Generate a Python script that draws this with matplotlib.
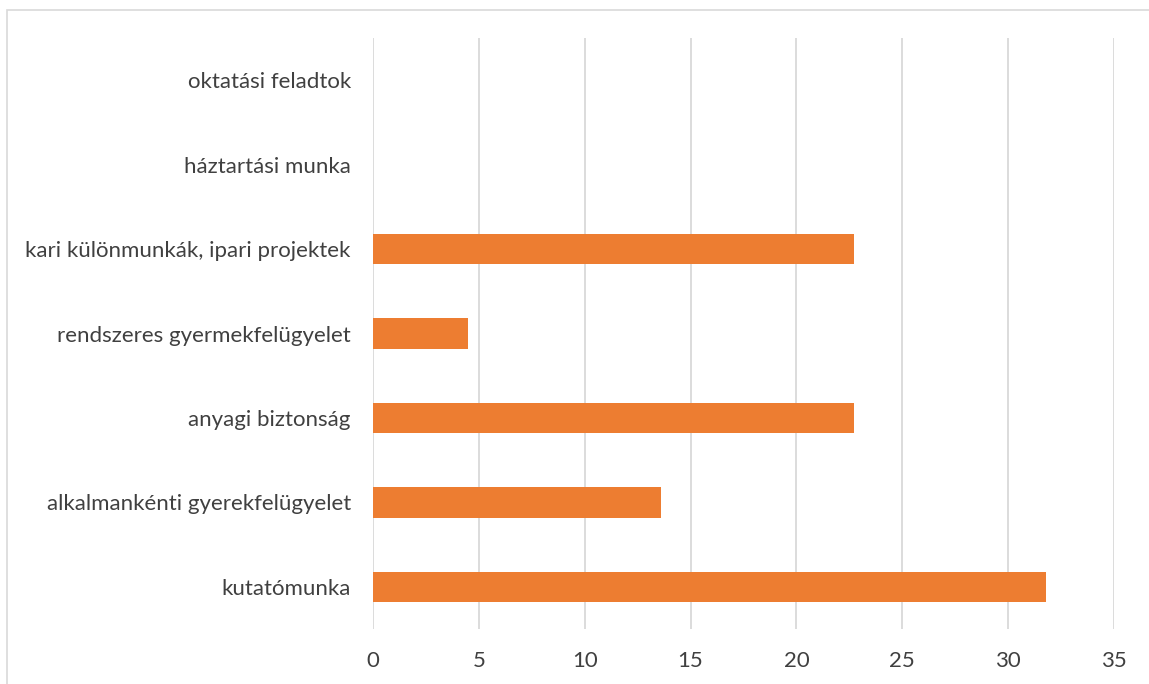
import matplotlib
matplotlib.use("Agg")
import matplotlib.pyplot as plt
from matplotlib.patches import Rectangle

categories = [
    "kutatómunka",
    "alkalmankénti gyerekfelügyelet",
    "anyagi biztonság",
    "rendszeres gyermekfelügyelet",
    "kari különmunkák, ipari projektek",
    "háztartási munka",
    "oktatási feladtok",
]
values = [31.8, 13.6, 22.7, 4.5, 22.7, 0, 0]
xticks = [0, 5, 10, 15, 20, 25, 30, 35]

W, H = 1149, 684
fig = plt.figure(figsize=(W / 100, H / 100), dpi=100)
plt.rcParams["font.family"] = ["Lato", "DejaVu Sans"]

# outer chart frame (right and bottom edges run off the canvas)
fig.patches.append(Rectangle((7 / W, -0.05), 1.2, 1 - 10 / H + 0.05,
                             transform=fig.transFigure, fill=False,
                             edgecolor="#d9d9d9", linewidth=1.2))

left, right, top, bottom = 373, 1114, 38, 629
ax = fig.add_axes([left / W, 1 - bottom / H, (right - left) / W, (bottom - top) / H])

ypos = list(range(len(categories)))
ax.barh(ypos, values, height=0.36, color="#ed7d31", zorder=3)
ax.set_ylim(-0.5, len(categories) - 0.5)
ax.set_xlim(0, 35)
ax.set_xticks(xticks)
ax.set_yticks(ypos)
ax.set_yticklabels(categories)
ax.grid(axis="x", color="#d9d9d9", linewidth=1.3, zorder=0)
for s in ax.spines.values():
    s.set_visible(False)
ax.tick_params(axis="both", length=0, colors="#404040", labelsize=16)
ax.tick_params(axis="y", pad=16)
ax.tick_params(axis="x", pad=16)

fig.savefig("out.png", dpi=100)
